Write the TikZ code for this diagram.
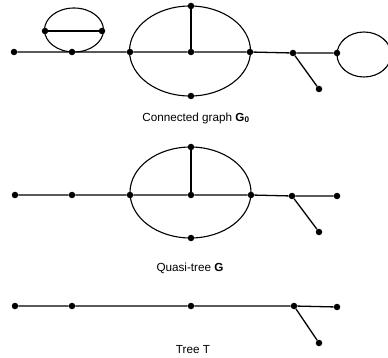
\documentclass[tikz,border=0pt]{standalone}
\usepackage{fontspec}
\setmainfont{Liberation Sans}
\begin{document}
\begin{tikzpicture}[x=1pt,y=-1pt,
  dot/.style={circle,fill=black,inner sep=0pt,minimum size=6.5pt},
  edge/.style={line width=1.3pt},
  curve/.style={line width=1.1pt},
  lbl/.style={font=\fontsize{11.7}{13}\selectfont,inner sep=0pt}]
\useasboundingbox (0,0) rectangle (388,358);
% ---------- Connected graph G0 ----------
\draw[curve] (74,30) ellipse [x radius=29.5, y radius=22];
\draw[curve] (190,51) ellipse [x radius=60.5, y radius=45];
\begin{scope}
\clip (0,0) rectangle (388,358);
\draw[curve] (364,54.5) ellipse [x radius=27, y radius=22.5];
\end{scope}
\node[dot] (a1) at (14,52) {};
\node[dot] (a2) at (72,52) {};
\node[dot] (a3) at (130,52) {};
\node[dot] (a4) at (191,52) {};
\node[dot] (a5) at (250,52) {};
\node[dot] (a6) at (293,53) {};
\node[dot] (a7) at (337,53) {};
\node[dot] (a8) at (319,89) {};
\node[dot] (a9) at (191,6) {};
\node[dot] (a10) at (191,96) {};
\node[dot] (s1) at (45,31) {};
\node[dot] (s2) at (102,31) {};
\draw[edge] (a1) -- (a2) -- (a3) -- (a4) -- (a5) -- (a6) -- (a7);
\draw[edge] (a6) -- (a8);
\draw[edge] (a4) -- (a9);
\draw[edge] (s1) -- (s2);
\node[lbl] (l1) at (196,118) {Connected graph \textbf{G}\textsubscript{\textbf{0}}};
% ---------- Quasi-tree G ----------
\draw[curve] (190.5,192.5) ellipse [x radius=60.5, y radius=45.5];
\node[dot] (b1) at (15,195) {};
\node[dot] (b2) at (72,195) {};
\node[dot] (b3) at (130,195) {};
\node[dot] (b4) at (191,195) {};
\node[dot] (b5) at (251,195) {};
\node[dot] (b6) at (292,196) {};
\node[dot] (b7) at (337,196) {};
\node[dot] (b8) at (319,232) {};
\node[dot] (b9) at (191,147) {};
\node[dot] (b10) at (191,238) {};
\draw[edge] (b1) -- (b2) -- (b3) -- (b4) -- (b5) -- (b6) -- (b7);
\draw[edge] (b6) -- (b8);
\draw[edge] (b4) -- (b9);
\node[lbl] (l2) at (190,268) {Quasi-tree \textbf{G}};
% ---------- Tree T ----------
\node[dot] (c1) at (15,306) {};
\node[dot] (c2) at (72,306) {};
\node[dot] (c3) at (191,306) {};
\node[dot] (c4) at (294,306) {};
\node[dot] (c5) at (337,307) {};
\node[dot] (c6) at (319,343) {};
\draw[edge] (c1) -- (c2) -- (c3) -- (c4) -- (c5);
\draw[edge] (c4) -- (c6);
\node[lbl] (l3) at (193,350) {Tree T};
\end{tikzpicture}
\end{document}
